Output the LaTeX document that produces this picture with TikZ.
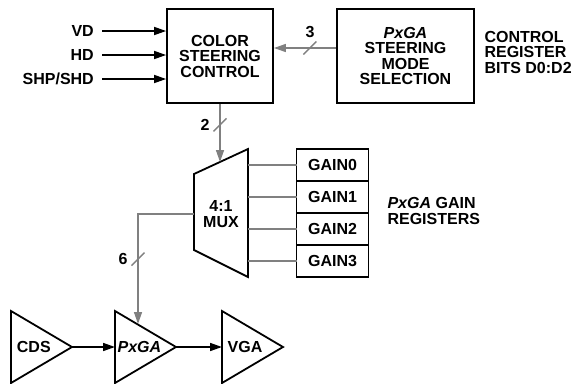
\documentclass[tikz,border=0pt]{standalone}
\usepackage{fontspec}
\setmainfont{Liberation Sans}
\usetikzlibrary{arrows.meta,positioning,shapes.geometric}
\definecolor{busgray}{gray}{0.5}

\begin{document}
\begin{tikzpicture}[
    x=1pt, y=1pt,
    >={Triangle[length=12pt,width=8pt]},
    font=\fontsize{16}{15.5}\selectfont\bfseries,
    outline/.style={line width=1.8pt},
    box/.style={
        draw,
        outline,
        align=center
    },
    reg/.style={box, minimum width=72pt, minimum height=32pt, outer sep=0pt},
    amp/.style={
        draw,
        outline,
        isosceles triangle,
        isosceles triangle stretches,
        minimum width=72pt,
        minimum height=61pt,
        inner sep=0pt,
        outer sep=0pt,
        anchor=apex
    },
    sigin/.style={anchor=east, inner xsep=8pt},
    sig/.style={->, line width=1.6pt},
    bus/.style={busgray, line width=1.4pt},
    busmark/.pic={\draw[bus] (-6.5pt,-6.5pt) -- (6.5pt,6.5pt);}
]
\useasboundingbox (0,0) rectangle (577,-383);

% control blocks
\node[box, minimum width=106pt, minimum height=94pt] (steer) at (220,-56)
    {COLOR\\STEERING\\CONTROL};
\node[box, minimum width=137pt, minimum height=94pt] (mode) at (405.5,-56)
    {\textit{PxGA}\\STEERING\\MODE\\SELECTION};
\node[anchor=west, align=left] (ctrlreg) at (481,-52)
    {CONTROL\\REGISTER\\BITS D0:D2};

% timing inputs
\node[sigin] (vd) at (102,-31) {VD};
\node[sigin] (hd) at (102,-55) {HD};
\node[sigin] (shp) at (102,-79) {SHP/SHD};

\draw[sig] (vd.east) -- (vd.east -| steer.west);
\draw[sig] (hd.east) -- (hd.east -| steer.west);
\draw[sig] (shp.east) -- (shp.east -| steer.west);

% mode bits
\draw[bus, ->] ([yshift=8pt]mode.west) -- coordinate[pos=0.42] (b3)
    ([yshift=8pt]mode.west -| steer.east);
\pic at (b3) {busmark};
\node[above=7pt of b3] (n3) {3};

% mux
\draw[outline] (194,-174) coordinate (m1) -- (248,-149) coordinate (m2)
    -- (248,-277) coordinate (m3) -- (194,-250) coordinate (m4) -- cycle;
\node[align=center] (mux) at (221,-214) {4:1\\MUX};
\coordinate (muxin) at (220,-162);

\draw[bus, ->] (steer.south) -- coordinate[pos=0.36] (b2) (muxin);
\pic at (b2) {busmark};
\node[left=7pt of b2] (n2) {2};

% gain registers
\node[reg] (g0) at (332.5,-165) {GAIN0};
\node[reg, below=0pt of g0] (g1) {GAIN1};
\node[reg, below=0pt of g1] (g2) {GAIN2};
\node[reg, below=0pt of g2] (g3) {GAIN3};
\foreach \g in {g0,g1,g2,g3}
    \draw[bus] (\g.west) -- (\g.west -| m2);
\node[anchor=west, align=left] (gainlbl) at (384,-211)
    {\textit{PxGA} GAIN\\REGISTERS};

% signal chain
\node[amp] (cds) at (72,-347) {CDS};
\node[amp] (pxga) at (176,-347) {\textit{PxGA}};
\node[amp] (vga) at (283,-347) {VGA};
\coordinate (ampin) at (138,-324);

\draw[sig] (cds.apex) -- (pxga.west);
\draw[sig] (pxga.apex) -- (vga.west);

\draw[bus, ->] (mux -| m1) -| coordinate[pos=0.705] (b6) (ampin);
\pic at (b6) {busmark};
\node[left=7pt of b6] (n6) {6};

\end{tikzpicture}
\end{document}
